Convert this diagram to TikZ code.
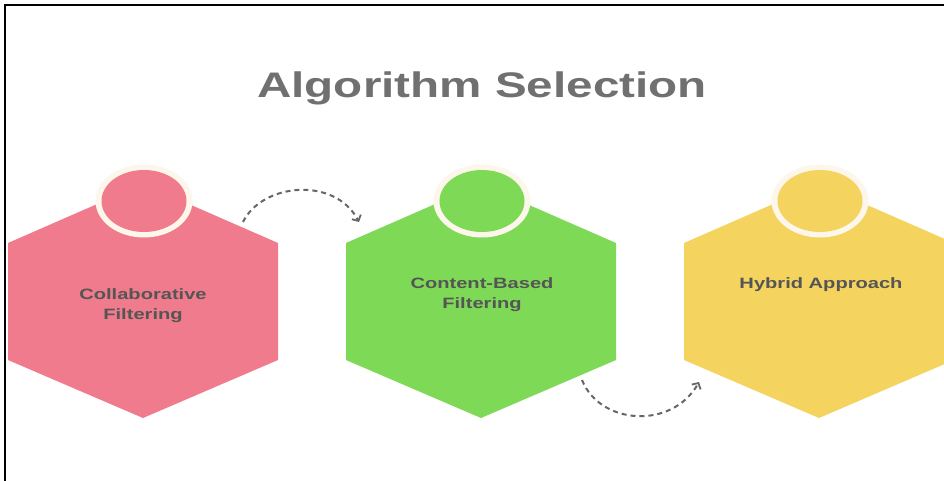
\documentclass[tikz,border=0pt]{standalone}
\usepackage{fontspec}
\setmainfont{Liberation Sans}
\usetikzlibrary{arrows.meta}
\definecolor{cpink}{HTML}{EF7B8C}
\definecolor{cgreen}{HTML}{7ED957}
\definecolor{cyellow}{HTML}{F4D35E}
\definecolor{cring}{HTML}{FDF6EB}
\definecolor{ctext}{HTML}{555555}
\definecolor{ctitle}{HTML}{707070}
\definecolor{carrow}{HTML}{666666}
\tikzset{
  hexlabel/.style={text=ctext, font=\fontsize{15}{20}\selectfont\bfseries, inner sep=0pt},
  flow/.style={draw=carrow, line width=2pt, dash pattern=on 5pt off 4pt, -{Straight Barb[length=4.5pt,width=10pt,line width=1.8pt]}}
}
\newcommand{\hexpath}[2]{%
  \fill[#2] (#1-135,243) -- (#1,184) -- (#1+135,243) -- (#1+135,360) -- (#1,418) -- (#1-135,360) -- cycle;
  \fill[cring] (#1+1,201) ellipse [x radius=48.5, y radius=36.5];
  \fill[#2] (#1+1,201) ellipse [x radius=42.5, y radius=31];
}
\begin{document}
\begin{tikzpicture}[x=1pt,y=-1pt]
\useasboundingbox (0,0) rectangle (944,481);
\fill[white] (0,0) rectangle (944,481);
\clip (0,0) rectangle (944,481);
\draw[line width=2pt, black] (5,481) -- (5,5) -- (944,5);
\node[text=ctitle, anchor=base, inner sep=0pt, font=\fontsize{35.5}{40}\selectfont\bfseries] (title) at (482,98) {\scalebox{1.34}[1]{Algorithm Selection}};
\hexpath{143}{cpink}
\hexpath{481}{cgreen}
\hexpath{819}{cyellow}
\node[hexlabel] (cf) at (143,305.5) {\scalebox{1.34}[1]{\begin{tabular}{@{}c@{}}Collaborative\\Filtering\end{tabular}}};
\node[hexlabel] (cb) at (482,294) {\scalebox{1.34}[1]{\begin{tabular}{@{}c@{}}Content-Based\\Filtering\end{tabular}}};
\node[hexlabel, anchor=base] (hy) at (821,288.5) {\scalebox{1.34}[1]{Hybrid Approach}};
\coordinate (a1s) at (243,222);
\coordinate (a1e) at (359,222);
\coordinate (a2s) at (582,380);
\coordinate (a2e) at (699,382);
\draw[flow] (a1s) .. controls (262,183) and (335,176) .. (a1e);
\draw[flow] (a2s) .. controls (600,425) and (672,430) .. (a2e);
\end{tikzpicture}
\end{document}
